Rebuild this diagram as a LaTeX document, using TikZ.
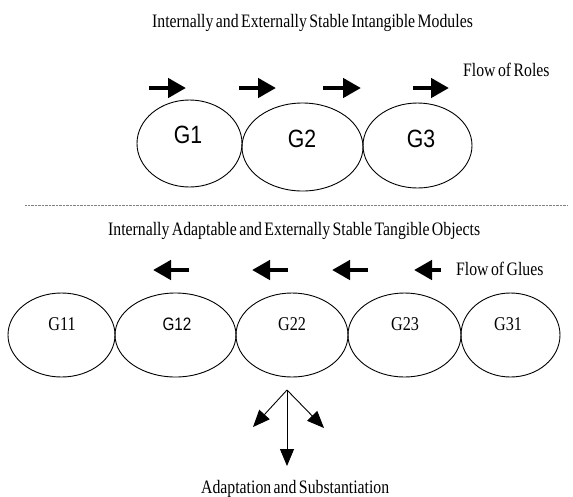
\documentclass[tikz,border=0pt]{standalone}
\usepackage{fontspec}
\setmainfont{Liberation Serif}
\newfontfamily\tnr[FakeStretch=0.83]{Liberation Serif}
\newfontfamily\arl[FakeStretch=0.85]{Liberation Sans}
\newcommand\tightsp{\spaceskip=0.13em\relax}
\newcommand\serifnormal{\tnr\fontsize{19}{19}\selectfont\tightsp}
\usetikzlibrary{shapes.geometric,arrows.meta}
\begin{document}
\begin{tikzpicture}[x=1pt,y=-1pt,
  blob/.style={draw,ellipse,line width=0.9pt,inner sep=0pt},
  serif/.style={inner sep=0pt,font=\serifnormal},
  glab/.style={anchor=base,inner sep=0pt,font=\tnr\fontsize{19.5}{19}\selectfont},
  biglab/.style={anchor=base,inner sep=0pt,font=\arl\fontsize{25}{25}\selectfont},
  midlab/.style={anchor=base,inner sep=0pt,font=\arl\fontsize{18}{18}\selectfont},
  flowarrow/.style={line width=4.6pt,-{Triangle[length=18pt,width=19pt]}},
  thinarrow/.style={line width=0.9pt,-{Triangle[length=17pt,width=14pt]}}]
\useasboundingbox (0,0) rectangle (573,496);
% titles
\node[serif,anchor=base west] (t1) at (152,27) {Internally and Externally Stable Intangible Modules};
\node[serif,anchor=base west] (roles) at (463,76) {Flow of Roles};
\node[serif,anchor=base west] (t2) at (108,235) {Internally Adaptable and Externally Stable Tangible Objects};
\node[serif,anchor=base west] (glues) at (456,275) {Flow of Glues};
\node[serif,anchor=base west] (adapt) at (201,493) {Adaptation and Substantiation};
% separator
\coordinate (sepL) at (25,205);
\coordinate (sepR) at (568,205);
\draw[gray,line width=0.7pt,dash pattern=on 0.7pt off 0.7pt] (sepL) -- (sepR);
% top ellipses
\node[blob,minimum width=105pt,minimum height=87pt] (e1) at (189.5,143.5) {};
\node[blob,minimum width=121pt,minimum height=88pt] (e2) at (302.5,147) {};
\node[blob,minimum width=109pt,minimum height=85pt] (e3) at (417.5,145.5) {};
\node[biglab] (l1) at (188,143) {G1};
\node[biglab] (l2) at (302,147) {G2};
\node[biglab] (l3) at (421,147) {G3};
% bottom ellipses
\node[blob,minimum width=107pt,minimum height=84pt] (b1) at (61.5,335) {};
\node[blob,minimum width=121pt,minimum height=84pt] (b2) at (175.5,335) {};
\node[blob,minimum width=112pt,minimum height=84pt] (b3) at (292,335) {};
\node[blob,minimum width=113pt,minimum height=84pt] (b4) at (404.5,335) {};
\node[blob,minimum width=99pt,minimum height=84pt] (b5) at (510.5,335) {};
\node[glab] (m1) at (62,330) {G11};
\node[midlab] (m2) at (177,330) {G12};
\node[glab] (m3) at (292,330) {G22};
\node[glab] (m4) at (405,330) {G23};
\node[glab] (m5) at (508,330) {G31};
% flow of roles arrows
\coordinate (ra1) at (149,88); \coordinate (rb1) at (186,88);
\coordinate (ra2) at (239,88); \coordinate (rb2) at (276,88);
\coordinate (ra3) at (323,88); \coordinate (rb3) at (361,88);
\coordinate (ra4) at (413,88); \coordinate (rb4) at (449,88);
\draw[flowarrow] (ra1) -- (rb1);
\draw[flowarrow] (ra2) -- (rb2);
\draw[flowarrow] (ra3) -- (rb3);
\draw[flowarrow] (ra4) -- (rb4);
% flow of glues arrows
\coordinate (ga1) at (189,270); \coordinate (gb1) at (153,270);
\coordinate (ga2) at (288,270); \coordinate (gb2) at (252,270);
\coordinate (ga3) at (368,270); \coordinate (gb3) at (332,270);
\coordinate (ga4) at (441,270); \coordinate (gb4) at (414,270);
\draw[flowarrow] (ga1) -- (gb1);
\draw[flowarrow] (ga2) -- (gb2);
\draw[flowarrow] (ga3) -- (gb3);
\draw[flowarrow] (ga4) -- (gb4);
% adaptation arrows
\coordinate (src) at (287,390);
\coordinate (dl) at (253,427);
\coordinate (dr) at (324,428);
\coordinate (dd) at (287,466);
\draw[thinarrow] (src) -- (dl);
\draw[thinarrow] (src) -- (dr);
\draw[thinarrow] (src) -- (dd);
\end{tikzpicture}
\end{document}
